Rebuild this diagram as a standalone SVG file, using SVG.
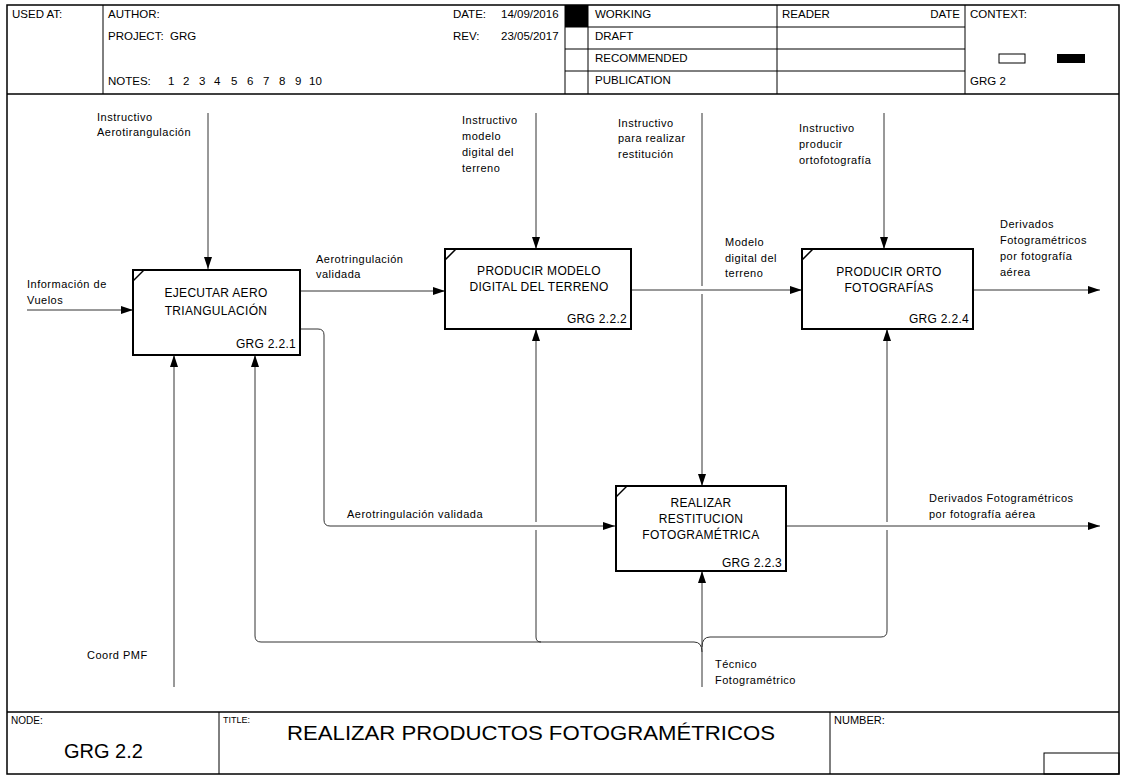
<svg xmlns="http://www.w3.org/2000/svg" width="1124" height="776" viewBox="0 0 1124 776">
<style>
text{font-family:"Liberation Sans",Arial,sans-serif;fill:#000}
.h{font-size:11.5px}
.l{font-size:11px;letter-spacing:0.5px}
.b{font-size:12px;letter-spacing:0.3px}
.frame{fill:none;stroke:#000;stroke-width:1.5}
.thin{fill:none;stroke:#000;stroke-width:1}
.box{fill:#fff;stroke:#000;stroke-width:2}
.ca{fill:none;stroke:#333;stroke-width:1;marker-end:url(#ah)}
</style>
<defs>
<marker id="ah" viewBox="0 0 12 8" refX="12" refY="4" markerWidth="12" markerHeight="8" markerUnits="userSpaceOnUse" orient="auto">
<path d="M0,0 L12,4 L0,8 Z" fill="#000"/>
</marker>
</defs>
<rect width="1124" height="776" fill="#fff"/>
<g id="frame">
<rect x="7" y="5" width="1112" height="769" class="frame"/>
<line x1="7" y1="94" x2="1119" y2="94" class="frame"/>
<line x1="103" y1="5" x2="103" y2="94" class="thin"/>
<line x1="565" y1="5" x2="565" y2="94" class="thin"/>
<line x1="588" y1="5" x2="588" y2="94" class="thin"/>
<line x1="777" y1="5" x2="777" y2="94" class="thin"/>
<line x1="965" y1="5" x2="965" y2="94" class="thin"/>
<line x1="565" y1="27" x2="965" y2="27" class="thin"/>
<line x1="565" y1="49" x2="965" y2="49" class="thin"/>
<line x1="565" y1="71" x2="965" y2="71" class="thin"/>
<rect x="565" y="5" width="23" height="22" fill="#000"/>
<rect x="999" y="54" width="26" height="9" fill="#fff" stroke="#000" stroke-width="1"/>
<rect x="1057" y="54" width="28" height="9" fill="#000"/>
<text x="12" y="18" class="h">USED AT:</text>
<text x="108" y="18" class="h">AUTHOR:</text>
<text x="108" y="40" class="h" xml:space="preserve">PROJECT:  GRG</text>
<text y="85" class="h"><tspan x="108">NOTES:</tspan><tspan x="168">1</tspan><tspan x="183">2</tspan><tspan x="199">3</tspan><tspan x="214">4</tspan><tspan x="231">5</tspan><tspan x="247">6</tspan><tspan x="263">7</tspan><tspan x="279">8</tspan><tspan x="295">9</tspan><tspan x="309">10</tspan></text>
<text x="453" y="18" class="h">DATE:</text>
<text x="501" y="18" class="h">14/09/2016</text>
<text x="453" y="40" class="h">REV:</text>
<text x="501" y="40" class="h">23/05/2017</text>
<text x="595" y="18" class="h">WORKING</text>
<text x="595" y="40" class="h">DRAFT</text>
<text x="595" y="62" class="h">RECOMMENDED</text>
<text x="595" y="84" class="h">PUBLICATION</text>
<text x="782" y="18" class="h">READER</text>
<text x="960" y="18" class="h" text-anchor="end">DATE</text>
<text x="970" y="18" class="h">CONTEXT:</text>
<text x="970" y="85" class="h">GRG 2</text>
<line x1="7" y1="712" x2="1119" y2="712" class="frame"/>
<line x1="219" y1="712" x2="219" y2="774" class="thin"/>
<line x1="830" y1="712" x2="830" y2="774" class="thin"/>
<rect x="1044" y="753" width="75" height="21" class="thin"/>
<text x="11" y="724" style="font-size:10px">NODE:</text>
<text x="64" y="758" style="font-size:20px">GRG 2.2</text>
<text x="223" y="723" style="font-size:9px">TITLE:</text>
<text x="287" y="740" style="font-size:21px" textLength="488" lengthAdjust="spacingAndGlyphs">REALIZAR PRODUCTOS FOTOGRAMÉTRICOS</text>
<text x="834" y="724" style="font-size:11px">NUMBER:</text>
</g>
<g id="connectors">
<path d="M27 310 H133" class="ca"/>
<path d="M208 113 V269" class="ca"/>
<path d="M300 291 H445" class="ca"/>
<path d="M300 329 H318 Q324 329 324 335 V520 Q324 526 330 526 H615" class="ca"/>
<path d="M536 113 V249" class="ca"/>
<path d="M702 113 V286 M702 294 V486" class="ca"/>
<path d="M630 290 H802" class="ca"/>
<path d="M884 113 V249" class="ca"/>
<path d="M972 290 H1100" class="ca"/>
<path d="M786 526 H1100" class="ca"/>
<path d="M174 687 V355" class="ca"/>
<path d="M702 687 V571" class="ca"/>
<path d="M702 652 Q702 642 694 642 H261 Q255 642 255 636 V355" class="ca"/>
<path d="M541 642 Q536 642 536 637 V530 M536 522 V329" class="ca"/>
<path d="M702 647 Q702 637 710 637 H881 Q887 637 887 631 V530 M887 522 V329" class="ca"/>
<text x="97" y="121" class="l">Instructivo</text>
<text x="97" y="136" class="l">Aerotirangulación</text>
<text x="27" y="288" class="l">Información de</text>
<text x="27" y="304" class="l">Vuelos</text>
<text x="316" y="263" class="l">Aerotringulación</text>
<text x="316" y="278" class="l">validada</text>
<text x="462" y="124" class="l">Instructivo</text>
<text x="462" y="140" class="l">modelo</text>
<text x="462" y="156" class="l">digital del</text>
<text x="462" y="172" class="l">terreno</text>
<text x="618" y="127" class="l">Instructivo</text>
<text x="618" y="142" class="l">para realizar</text>
<text x="618" y="158" class="l">restitución</text>
<text x="725" y="246" class="l">Modelo</text>
<text x="725" y="262" class="l">digital del</text>
<text x="725" y="277" class="l">terreno</text>
<text x="799" y="132" class="l">Instructivo</text>
<text x="799" y="148" class="l">producir</text>
<text x="799" y="164" class="l">ortofotografía</text>
<text x="1000" y="228" class="l">Derivados</text>
<text x="1000" y="244" class="l">Fotogramétricos</text>
<text x="1000" y="260" class="l">por fotografía</text>
<text x="1000" y="276" class="l">aérea</text>
<text x="347" y="518" class="l">Aerotringulación validada</text>
<text x="929" y="502" class="l">Derivados Fotogramétricos</text>
<text x="929" y="518" class="l">por fotografía aérea</text>
<text x="87" y="659" class="l">Coord PMF</text>
<text x="715" y="668" class="l">Técnico</text>
<text x="715" y="684" class="l">Fotogramétrico</text>
</g>
<g id="box1">
<rect x="133" y="270" width="167" height="85" class="box"/>
<line x1="133" y1="281" x2="144" y2="270" stroke="#000" stroke-width="1.5"/>
<text x="216" y="297" class="b" text-anchor="middle">EJECUTAR AERO</text>
<text x="216" y="315" class="b" text-anchor="middle">TRIANGULACIÓN</text>
<text x="296" y="348" class="b" text-anchor="end">GRG 2.2.1</text>
</g>
<g id="box2">
<rect x="445" y="249" width="186" height="80" class="box"/>
<line x1="445" y1="260" x2="456" y2="249" stroke="#000" stroke-width="1.5"/>
<text x="539" y="275" class="b" text-anchor="middle">PRODUCIR MODELO</text>
<text x="539" y="291" class="b" text-anchor="middle">DIGITAL DEL TERRENO</text>
<text x="627" y="323" class="b" text-anchor="end">GRG 2.2.2</text>
</g>
<g id="box3">
<rect x="616" y="486" width="170" height="85" class="box"/>
<line x1="616" y1="497" x2="627" y2="486" stroke="#000" stroke-width="1.5"/>
<text x="701" y="507" class="b" text-anchor="middle">REALIZAR</text>
<text x="701" y="523" class="b" text-anchor="middle">RESTITUCION</text>
<text x="701" y="539" class="b" text-anchor="middle">FOTOGRAMÉTRICA</text>
<text x="782" y="567" class="b" text-anchor="end">GRG 2.2.3</text>
</g>
<g id="box4">
<rect x="802" y="249" width="171" height="80" class="box"/>
<line x1="802" y1="260" x2="813" y2="249" stroke="#000" stroke-width="1.5"/>
<text x="889" y="276" class="b" text-anchor="middle">PRODUCIR ORTO</text>
<text x="889" y="292" class="b" text-anchor="middle">FOTOGRAFÍAS</text>
<text x="969" y="323" class="b" text-anchor="end">GRG 2.2.4</text>
</g>
</svg>
